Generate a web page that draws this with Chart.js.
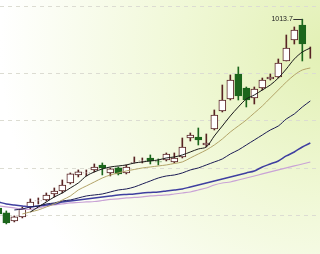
<!DOCTYPE html>
<html>
<head>
<meta charset="utf-8">
<script src="https://cdn.jsdelivr.net/npm/chart.js@4.4.1/dist/chart.umd.min.js"></script>
<style>
  html, body { margin: 0; padding: 0; background: #fff; }
  canvas { display: block; }
</style>
</head>
<body>
<canvas id="kline" width="320" height="254"></canvas>
<script>
// daily candles, oldest first
const opens  = [616.8, 606.3, 589.5, 597.9, 618.9, 631.5, 633.6, 646.2, 652.5, 669.3,
                686.2, 690.4, 696.7, 707.2, 690.4, 700.9, 690.4, 711.4, 715.6, 721.9,
                713.9, 717.7, 713.5, 724.0, 763.9, 766.0, 749.2, 782.8, 820.7, 845.9,
                898.5, 869.0, 848.0, 869.0, 887.9, 892.1, 925.8, 969.9, 1001.4, 932.1];
const highs  = [623.1, 610.5, 600.0, 618.9, 635.7, 637.8, 648.3, 658.8, 675.6, 690.4,
                696.7, 696.7, 709.3, 711.4, 700.9, 703.0, 707.2, 724.0, 721.9, 728.2,
                719.8, 732.4, 732.4, 763.9, 774.4, 784.9, 772.3, 822.8, 875.3, 896.4,
                913.2, 871.1, 871.1, 890.0, 898.5, 930.0, 980.4, 997.3, 1013.7, 955.2];
const lows   = [600.0, 583.2, 587.4, 595.8, 614.7, 625.2, 631.5, 639.9, 648.3, 667.2,
                682.0, 684.1, 692.5, 686.2, 684.1, 686.2, 688.3, 711.0, 711.4, 709.3,
                707.2, 715.6, 711.4, 721.9, 757.6, 749.2, 745.0, 780.7, 818.6, 843.8,
                843.8, 829.1, 835.4, 864.8, 885.8, 890.0, 925.8, 961.5, 925.8, 931.5];
const closes = [604.2, 585.3, 597.9, 614.7, 629.4, 632.0, 644.1, 652.5, 665.1, 688.3,
                692.5, 690.8, 703.0, 700.9, 698.8, 688.3, 703.0, 712.0, 716.0, 715.6,
                713.5, 730.3, 721.9, 745.0, 770.2, 759.7, 753.4, 812.3, 843.8, 885.8,
                852.2, 843.8, 866.9, 885.8, 892.1, 921.6, 953.1, 990.9, 961.5, 932.1];

// moving averages
const ma5  = [null, null, null, null, 608.4, 618.9, 629.4, 639.9, 648.3, 658.8,
              669.3, 684.0, 692.5, 698.8, 703.0, 705.1, 707.2, 711.4, 713.5, 715.6,
              717.7, 721.9, 724.0, 728.2, 734.5, 740.8, 745.0, 768.1, 789.1, 810.2,
              829.1, 845.9, 854.3, 864.8, 875.3, 890.0, 909.0, 930.0, 944.7, 953.1];
const ma10 = [null, null, null, 604.2, 608.4, 612.6, 618.9, 625.2, 633.6, 642.0,
              654.6, 663.0, 671.4, 679.8, 686.1, 690.4, 694.6, 697.7, 700.9, 703.0,
              705.1, 707.2, 710.3, 713.5, 721.9, 730.3, 738.7, 749.2, 761.8, 776.5,
              789.1, 801.8, 816.5, 831.2, 848.0, 864.8, 881.6, 896.3, 906.9, 911.1];
const ma20 = [null, null, 612.6, 614.7, 618.9, 621.0, 625.2, 627.3, 631.5, 633.6,
              637.8, 642.0, 644.1, 646.2, 650.4, 654.6, 656.7, 660.9, 667.2, 673.5,
              679.8, 684.0, 686.1, 690.4, 696.7, 700.9, 707.2, 713.5, 719.8, 730.3,
              738.7, 749.2, 759.7, 770.2, 780.7, 789.1, 803.9, 814.4, 829.1, 841.7];
const ma30 = [629.4, 625.2, 623.1, 621.0, 618.9, 621.0, 623.1, 625.2, 629.4, 631.5,
              633.6, 635.7, 637.8, 639.9, 642.0, 644.1, 645.2, 646.2, 648.3, 649.4,
              650.4, 652.5, 654.6, 656.7, 660.9, 665.1, 669.3, 673.5, 677.7, 681.9,
              686.1, 690.4, 694.6, 703.0, 709.3, 715.6, 726.1, 734.5, 745.0, 753.4];
const ma60 = [621.0, 618.9, 616.8, 614.7, 613.6, 616.8, 621.0, 623.1, 625.2, 627.3,
              628.3, 629.4, 630.4, 632.5, 634.7, 635.7, 637.8, 638.9, 639.9, 642.0,
              643.1, 644.1, 646.2, 648.3, 650.4, 654.6, 658.8, 665.1, 669.3, 671.4,
              675.6, 679.8, 684.0, 688.3, 692.5, 696.7, 700.9, 705.1, 709.3, 713.5];

const gridLevels = [600, 700, 800, 900, 1040];

const UP = '#582424';
const DOWN = '#1c661c';
const isUp = i => closes[i] >= opens[i];
const edgeColors = closes.map((c, i) => isUp(i) ? UP : DOWN);
const fillColors = closes.map((c, i) => isUp(i) ? '#ffffff' : DOWN);

const maLine = (values, color, width, label) => ({
    type: 'line',
    label: label,
    order: 0,
    data: values.map((v, i) => ({ x: i, y: v })),
    borderColor: color,
    borderWidth: width,
    pointRadius: 0,
    fill: false,
    tension: 0.3,
    spanGaps: false
});

//light yellow-green glow behind the plot
const backdrop = {
    id: 'backdrop',
    beforeDraw(chart) {
        const ctx = chart.ctx;
        const g = ctx.createRadialGradient(330, 50, 0, 330, 50, 330);
        g.addColorStop(0, '#e2f0b4');
        g.addColorStop(0.45, '#f0f8d6');
        g.addColorStop(1, '#ffffff');
        ctx.save();
        ctx.fillStyle = g;
        ctx.fillRect(0, 0, chart.width, chart.height);
        ctx.restore();
    }
};

//marks the highest price with a label
const highMark = {
    id: 'highMark',
    afterDatasetsDraw(chart) {
        const top = Math.max(...highs);
        const i = highs.indexOf(top);
        const x = chart.scales.x.getPixelForValue(i);
        const y = chart.scales.y.getPixelForValue(top);
        const ctx = chart.ctx;
        ctx.save();
        ctx.strokeStyle = '#333';
        ctx.lineWidth = 1;
        ctx.beginPath();
        ctx.moveTo(x - 9, Math.round(y) + 0.5);
        ctx.lineTo(x, Math.round(y) + 0.5);
        ctx.stroke();
        ctx.fillStyle = '#222';
        ctx.font = '7px "Liberation Sans"';
        ctx.textAlign = 'right';
        ctx.textBaseline = 'middle';
        ctx.fillText(top.toFixed(1), x - 9.5, y);
        ctx.restore();
    }
};

const ctx = document.getElementById('kline').getContext('2d');
new Chart(ctx, {
    type: 'bar',
    data: {
        datasets: [
            maLine(ma5, '#1a1a1a', 1, 'MA5'),
            maLine(ma10, '#b3a468', 1, 'MA10'),
            maLine(ma20, '#1c1c55', 1, 'MA20'),
            maLine(ma30, '#3f3fa0', 1.5, 'MA30'),
            maLine(ma60, '#c9a3d6', 1.2, 'MA60'),
            {
                label: 'body',
                order: 1,
                data: opens.map((o, i) => ({ x: i, y: [o, closes[i]] })),
                backgroundColor: fillColors,
                borderColor: edgeColors,
                borderWidth: 1,
                borderSkipped: false,
                barThickness: 7,
                grouped: false
            },
            {
                label: 'wick',
                order: 2,
                data: lows.map((l, i) => ({ x: i, y: [l, highs[i]] })),
                backgroundColor: edgeColors,
                borderWidth: 0,
                barThickness: 1,
                grouped: false
            }
        ]
    },
    options: {
        responsive: false,
        animation: false,
        layout: { padding: 0 },
        plugins: {
            legend: { display: false },
            tooltip: { enabled: false }
        },
        scales: {
            x: {
                type: 'linear',
                min: 0.21,
                max: 40.21,
                offset: false,
                display: false
            },
            y: {
                min: 520,
                max: 1054,
                afterBuildTicks: s => { s.ticks = gridLevels.map(v => ({ value: v })); },
                afterFit: s => { s.width = 0; },
                ticks: { display: false },
                border: { display: false, dash: [4, 4] },
                grid: { color: '#dcdcd2', lineWidth: 1, drawTicks: false }
            }
        }
    },
    plugins: [backdrop, highMark]
});
</script>
</body>
</html>
